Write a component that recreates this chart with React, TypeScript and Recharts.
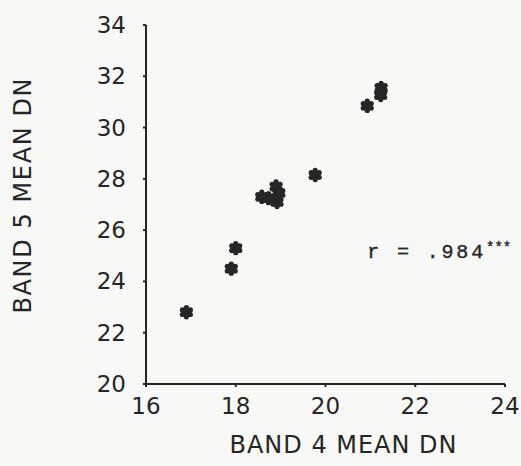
import { ScatterChart, Scatter, XAxis, YAxis, ReferenceDot } from "recharts";

// Band 4 vs band 5 mean DN per sample
const band4 = [16.9, 17.9, 18.0, 18.58, 18.73, 18.9, 18.92, 18.96, 19.77, 20.93, 21.23, 21.24];
const band5 = [22.8, 24.5, 25.3, 27.3, 27.25, 27.7, 27.1, 27.45, 28.15, 30.85, 31.27, 31.55];
const xTicks = [16, 18, 20, 22, 24];
const yTicks = [20, 22, 24, 26, 28, 30, 32, 34];
const corrText = "r = .984";
const corrStars = "***";
const corrAnchor = { x: 20.93, y: 24.9 };

const points = band4.map((b4, i) => ({ b4, b5: band5[i] }));

const ink = "#262626";
const plotFont = "'DejaVu Sans', sans-serif";

// rounded six-lobed asterisk used for every sample
function Star(props: any) {
  const { cx, cy } = props;
  if (cx == null || cy == null) return null;
  const lobes = [];
  for (let i = 0; i < 6; i++) {
    const a = (Math.PI / 3) * i - Math.PI / 2;
    lobes.push(<circle key={i} cx={cx + 4.6 * Math.cos(a)} cy={cy + 4.6 * Math.sin(a)} r={2.6} fill={ink} />);
  }
  return (
    <g>
      <circle cx={cx} cy={cy} r={4.8} fill={ink} />
      {lobes}
    </g>
  );
}

function XTick({ x, y, payload }: any) {
  return (
    <text x={x} y={y} dy={17} textAnchor="middle" fill={ink} fontFamily={plotFont} fontSize={23}>
      {payload.value}
    </text>
  );
}

function YTick({ x, y, payload }: any) {
  return (
    <text x={x} y={y} dy={8} textAnchor="end" fill={ink} fontFamily={plotFont} fontSize={23}>
      {payload.value}
    </text>
  );
}

function CorrLabel({ cx, cy }: any) {
  if (cx == null || cy == null) return null;
  return (
    <text x={cx} y={cy} fill={ink} fontFamily="'Liberation Mono', monospace" fontSize={20} stroke={ink} strokeWidth={0.4}>
      <tspan textLength={116} lengthAdjust="spacing">{corrText}</tspan>
      <tspan fontSize={14} dy={-6}>{corrStars}</tspan>
    </text>
  );
}

export default function App() {
  return (
    <div style={{ position: "fixed", left: 0, top: 0, width: 521, height: 466, background: "#f8f8f6" }}>
      <ScatterChart width={521} height={466} margin={{ top: 25, right: 16, bottom: 0, left: 0 }}>
        <XAxis
          type="number"
          dataKey="b4"
          domain={[16, 24]}
          ticks={xTicks}
          tick={<XTick />}
          tickSize={3}
          tickMargin={10}
          height={82}
          stroke={ink}
          strokeWidth={2}
          label={{
            content: () => (
              <text x={343} y={453} textAnchor="middle" fill={ink} fontFamily={plotFont} fontSize={24} textLength={227} lengthAdjust="spacing">
                BAND 4 MEAN DN
              </text>
            ),
          }}
        />
        <YAxis
          type="number"
          dataKey="b5"
          domain={[20, 34]}
          ticks={yTicks}
          tick={<YTick />}
          tickSize={3}
          tickMargin={17}
          width={146}
          stroke={ink}
          strokeWidth={2}
          label={{
            content: () => (
              <text
                x={0}
                y={0}
                transform="translate(31,196) rotate(-90)"
                textAnchor="middle"
                fill={ink}
                fontFamily={plotFont}
                fontSize={24}
                textLength={235}
                lengthAdjust="spacing"
              >
                BAND 5 MEAN DN
              </text>
            ),
          }}
        />
        <Scatter data={points} shape={<Star />} isAnimationActive={false} />
        <ReferenceDot x={corrAnchor.x} y={corrAnchor.y} r={0} shape={<CorrLabel />} />
      </ScatterChart>
    </div>
  );
}
